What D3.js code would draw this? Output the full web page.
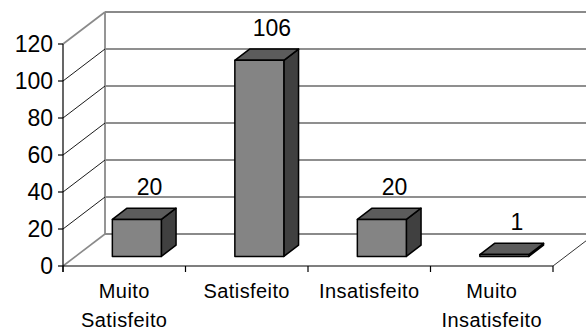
<!DOCTYPE html>
<html>
<head>
<meta charset="utf-8">
<script src="https://cdn.jsdelivr.net/npm/d3@7"></script>
<style>
  html, body { margin: 0; padding: 0; background: #fff; }
  svg { display: block; font-family: "Liberation Sans", Arial, sans-serif; }
</style>
</head>
<body>
<svg id="chart" width="586" height="331"></svg>
<script>
// Satisfaction survey counts
const categories = [["Muito", "Satisfeito"], ["Satisfeito"], ["Insatisfeito"], ["Muito", "Insatisfeito"]];
const values = [20, 106, 20, 1];
const yTicks = [0, 20, 40, 60, 80, 100, 120];

const svg = d3.select("#chart");

// Front plane geometry and depth offset for the oblique 3D projection
const x0 = 63, x1 = 553, yBottom = 266, yTop = 44;
const DX = 42, DY = -32;          // offset of the back wall from the front plane
const zFront = 0.3, zBack = 0.65; // depth range occupied by the bars

const x = d3.scaleBand().domain(d3.range(categories.length)).range([x0, x1]).paddingInner(0).paddingOuter(0);
const y = d3.scaleLinear().domain([0, 120]).range([yBottom, yTop]);

// project a (x, value, depth) point
const P = (px, v, z) => [px + z * DX, y(v) + z * DY];
const line = d3.line();

const walls = svg.append("g");

// back wall gridlines
yTicks.forEach(v => {
  const a = P(x0, v, 1), b = P(x1, v, 1);
  walls.append("line")
    .attr("x1", a[0]).attr("y1", a[1]).attr("x2", b[0]).attr("y2", b[1])
    .attr("stroke", v === 120 || v === 0 ? "#8a8a8a" : "#6a6a6a")
    .attr("stroke-width", v === 120 || v === 0 ? 1.8 : 1.3);
});
// back wall left edge
walls.append("path")
  .attr("d", line([P(x0, 0, 1), P(x0, 120, 1)]))
  .attr("stroke", "#8a8a8a").attr("stroke-width", 1.8).attr("fill", "none");

// side wall diagonals
yTicks.forEach(v => {
  const edge = v === 0 || v === 120;
  walls.append("path")
    .attr("d", line([P(x0, v, 0), P(x0, v, 1)]))
    .attr("stroke", edge ? "#8a8a8a" : "#000")
    .attr("stroke-width", edge ? 1.6 : 0.9)
    .attr("fill", "none");
});

// floor right edge
walls.append("path")
  .attr("d", line([P(x1, 0, 0), P(x1, 0, 1)]))
  .attr("stroke", "#333").attr("stroke-width", 1).attr("fill", "none");

// value axis
const axis = svg.append("g");
axis.append("line").attr("x1", x0).attr("x2", x0).attr("y1", y(120)).attr("y2", yBottom + 6)
  .attr("stroke", "#000").attr("stroke-width", 1.2);
yTicks.forEach(v => {
  axis.append("line").attr("x1", x0 - 5).attr("x2", x0).attr("y1", y(v)).attr("y2", y(v))
    .attr("stroke", "#000").attr("stroke-width", 1.2);
  axis.append("text")
    .attr("x", x0 - 10).attr("y", y(v)).attr("dy", "0.36em")
    .attr("text-anchor", "end").attr("font-size", 23).attr("fill", "#000")
    .text(v);
});

// category axis
axis.append("line").attr("x1", x0).attr("x2", x1).attr("y1", yBottom).attr("y2", yBottom)
  .attr("stroke", "#000").attr("stroke-width", 1.2);
d3.range(categories.length + 1).forEach(i => {
  const tx = x0 + i * x.bandwidth();
  axis.append("line").attr("x1", tx).attr("x2", tx).attr("y1", yBottom).attr("y2", yBottom + 6)
    .attr("stroke", "#000").attr("stroke-width", 1.2);
});
categories.forEach((lines, i) => {
  const cx = x(i) + x.bandwidth() / 2;
  const t = axis.append("text").attr("text-anchor", "middle").attr("font-size", 20)
    .attr("letter-spacing", 0.4).attr("fill", "#000");
  lines.forEach((s, j) => {
    t.append("tspan").attr("x", cx).attr("y", 298 + j * 29).text(s);
  });
});

// bars as oblique boxes
const bars = svg.append("g");
const barW = x.bandwidth() * 0.4;
values.forEach((v, i) => {
  const l = x(i) + (x.bandwidth() - barW) / 2, r = l + barW;
  const front = [P(l, 0, zFront), P(r, 0, zFront), P(r, v, zFront), P(l, v, zFront)];
  const side = [P(r, 0, zFront), P(r, 0, zBack), P(r, v, zBack), P(r, v, zFront)];
  const top = [P(l, v, zFront), P(r, v, zFront), P(r, v, zBack), P(l, v, zBack)];
  [[side, "#404040"], [top, "#5c5c5c"], [front, "#848484"]].forEach(([pts, c]) => {
    bars.append("path").attr("d", line(pts) + "Z")
      .attr("fill", c).attr("stroke", "#000").attr("stroke-width", 1.5)
      .attr("stroke-linejoin", "round");
  });
  // value label above the bar
  const c = P(l + barW / 2, v, 0.6);
  bars.append("text")
    .attr("x", c[0]).attr("y", c[1] - 15)
    .attr("text-anchor", "middle").attr("font-size", 23).attr("fill", "#000")
    .text(v);
});
</script>
</body>
</html>
